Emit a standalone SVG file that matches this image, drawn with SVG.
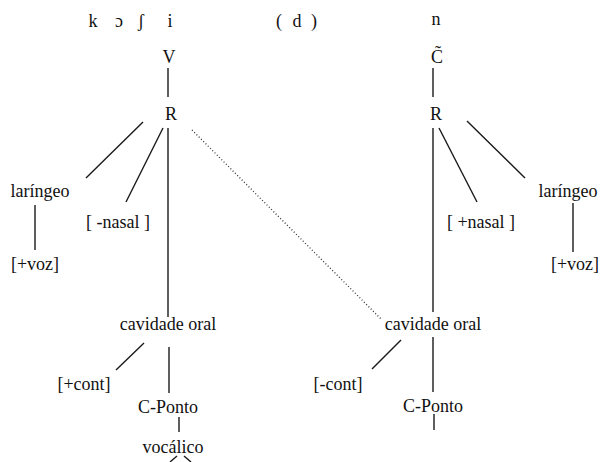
<svg xmlns="http://www.w3.org/2000/svg" width="601" height="462" viewBox="0 0 601 462" font-family="Liberation Serif, Times New Roman, serif">
<style>
text{font-size:18px;fill:#111}
.m{text-anchor:middle}
.ln{stroke:#1a1a1a;stroke-width:1.4;fill:none}
.dot{stroke:#333;stroke-width:1.3;stroke-dasharray:1 2.2;fill:none}
</style>
<rect width="601" height="462" fill="#fff"/>
<g id="segments">
<text x="93" y="27" class="m">k</text>
<text x="119" y="27" class="m">ɔ</text>
<text x="141" y="27" class="m">ʃ</text>
<text x="170" y="27" class="m">i</text>
<text x="279" y="27" class="m">(</text>
<text x="297" y="27" class="m">d</text>
<text x="314" y="27" class="m">)</text>
<text x="436" y="25" class="m">n</text>
</g>
<g id="connectors">
<line class="ln" x1="168" y1="68" x2="168" y2="97"/>
<line class="ln" x1="433" y1="68" x2="433" y2="97"/>
<line class="ln" x1="143" y1="122" x2="86" y2="178"/>
<line class="ln" x1="163" y1="128" x2="126" y2="202"/>
<line class="ln" x1="168" y1="128" x2="168" y2="317"/>
<line class="ln" x1="35" y1="205" x2="35" y2="250"/>
<line class="dot" x1="192" y1="130" x2="382" y2="320"/>
<line class="ln" x1="433" y1="128" x2="433" y2="312"/>
<line class="ln" x1="439" y1="128" x2="477" y2="202"/>
<line class="ln" x1="467" y1="121" x2="525" y2="178"/>
<line class="ln" x1="573" y1="203" x2="573" y2="252"/>
<line class="ln" x1="144" y1="343" x2="116" y2="370"/>
<line class="ln" x1="169" y1="347" x2="169" y2="393"/>
<line class="ln" x1="179" y1="417" x2="179" y2="432"/>
<line class="ln" x1="177" y1="456" x2="170" y2="462"/>
<line class="ln" x1="184" y1="456" x2="191" y2="462"/>
<line class="ln" x1="401" y1="340" x2="372" y2="369"/>
<line class="ln" x1="433" y1="337" x2="433" y2="392"/>
<line class="ln" x1="434" y1="414" x2="434" y2="430"/>
</g>
<g id="V"><text x="169" y="63" class="m">V</text></g>
<g id="R-left"><text x="171" y="120" class="m">R</text></g>
<g id="laringeo-left"><text x="40" y="197" class="m">laríngeo</text></g>
<g id="nasal-minus"><text x="118" y="228" class="m">[ -nasal ]</text></g>
<g id="voz-left"><text x="35" y="270" class="m">[+voz]</text></g>
<g id="cavidade-left"><text x="168" y="330" class="m">cavidade oral</text></g>
<g id="cont-plus"><text x="84" y="390" class="m">[+cont]</text></g>
<g id="cponto-left"><text x="168" y="413" class="m">C-Ponto</text></g>
<g id="vocalico"><text x="173" y="453" class="m">vocálico</text></g>
<g id="C-nasal"><text x="437" y="63" class="m">C̃</text></g>
<g id="R-right"><text x="436" y="120" class="m">R</text></g>
<g id="nasal-plus"><text x="481" y="228" class="m">[ +nasal ]</text></g>
<g id="laringeo-right"><text x="568" y="197" class="m">laríngeo</text></g>
<g id="voz-right"><text x="575" y="270" class="m">[+voz]</text></g>
<g id="cavidade-right"><text x="433" y="330" class="m">cavidade oral</text></g>
<g id="cont-minus"><text x="338" y="390" class="m">[-cont]</text></g>
<g id="cponto-right"><text x="433" y="412" class="m">C-Ponto</text></g>
</svg>
